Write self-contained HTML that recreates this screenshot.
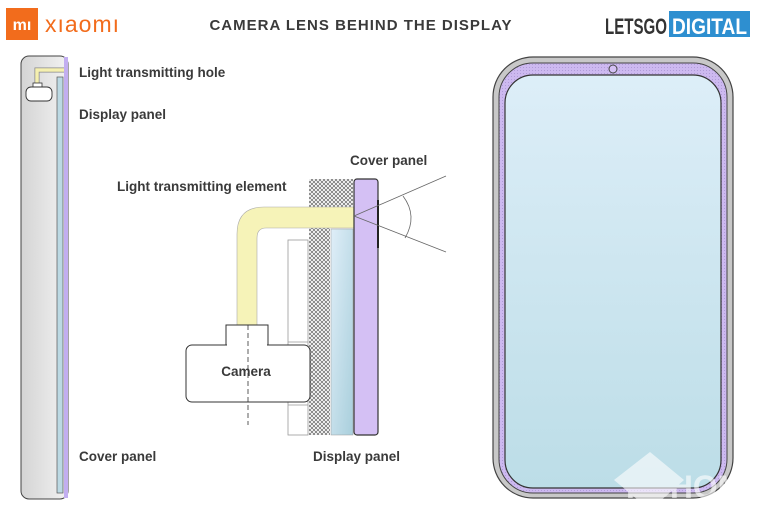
<!DOCTYPE html>
<html><head><meta charset="utf-8"><style>
body{margin:0;background:#fff;width:758px;height:523px;overflow:hidden}
svg{display:block}
text{font-family:"Liberation Sans","DejaVu Sans",sans-serif}
.l{font-size:13.5px;font-weight:bold;fill:#3a3a3a}
</style></head><body>
<svg width="758" height="523" viewBox="0 0 758 523">
<defs>
<pattern id="hx" width="4" height="4" patternUnits="userSpaceOnUse">
<rect width="4" height="4" fill="#fff"/>
<path d="M0 0L4 4M4 0L0 4" stroke="#666" stroke-width="0.7"/>
</pattern>
<pattern id="dots" width="3" height="3" patternUnits="userSpaceOnUse">
<rect width="3" height="3" fill="#cdb9f0"/>
<circle cx="1.5" cy="1.5" r="0.5" fill="#a693d0"/>
</pattern>
<linearGradient id="scr" x1="0" y1="0" x2="0" y2="1">
<stop offset="0" stop-color="#ddeef8"/><stop offset="1" stop-color="#bcdde7"/>
</linearGradient>
<linearGradient id="dp" x1="0" y1="0" x2="1" y2="1">
<stop offset="0" stop-color="#dfeef8"/><stop offset="1" stop-color="#a9cfdc"/>
</linearGradient>
<linearGradient id="gr" x1="0" y1="0" x2="1" y2="0">
<stop offset="0" stop-color="#d4d4d4"/><stop offset="1" stop-color="#f2f2f2"/>
</linearGradient>
</defs>
<!-- header -->
<rect x="6" y="8" width="32" height="32" fill="#f26c1c"/>
<text x="22" y="30" font-size="16" font-weight="bold" fill="#fff" text-anchor="middle">mı</text>
<text x="45" y="32" font-size="23" fill="#f26c1c" letter-spacing="1">xıaomı</text>
<text x="361" y="30" font-size="15" font-weight="bold" fill="#3a3a3a" text-anchor="middle" letter-spacing="1">CAMERA LENS BEHIND THE DISPLAY</text>
<text x="605" y="34" font-size="22" font-weight="bold" fill="#333" textLength="62" lengthAdjust="spacingAndGlyphs">LETSGO</text>
<rect x="669" y="11" width="81" height="26" fill="#2e8fd0"/>
<text x="672" y="34" font-size="22" font-weight="bold" fill="#fff" textLength="75" lengthAdjust="spacingAndGlyphs">DIGITAL</text>

<!-- left phone -->
<rect x="21" y="56" width="47" height="443" rx="8" fill="url(#gr)" stroke="#444" stroke-width="1"/>
<rect x="64" y="57" width="4" height="441" fill="#c2aef0"/>
<rect x="57" y="77" width="6" height="416" fill="#bcd9e3" stroke="#555" stroke-width="0.7"/>
<path d="M37 83 V70 H64" fill="none" stroke="#888" stroke-width="5"/>
<path d="M37 83 V70 H64" fill="none" stroke="#f5f0b0" stroke-width="3.5"/>
<rect x="33" y="83" width="9" height="4" fill="#fff" stroke="#333" stroke-width="0.8"/>
<rect x="26" y="87" width="26" height="14" rx="5" fill="#fff" stroke="#333" stroke-width="0.9"/>
<text x="79" y="77" class="l">Light transmitting hole</text>
<text x="79" y="119" class="l">Display panel</text>
<text x="79" y="461" class="l">Cover panel</text>

<!-- middle diagram -->
<rect x="288" y="240" width="20" height="195" fill="#fff" stroke="#999" stroke-width="0.8"/>
<line x1="288" y1="342" x2="308" y2="342" stroke="#999" stroke-width="0.8"/>
<line x1="288" y1="405" x2="308" y2="405" stroke="#999" stroke-width="0.8"/>
<rect x="309" y="179" width="21" height="256" fill="url(#hx)"/>
<rect x="309" y="179" width="44" height="28" fill="url(#hx)"/>
<rect x="331" y="229" width="22" height="206" fill="url(#dp)" stroke="#999" stroke-width="0.5"/>
<path d="M237 325 V234 Q237 207 264 207 H354 V228 H266 Q257 228 257 238 V325 Z" fill="#f6f3b8" stroke="#aaa" stroke-width="0.6"/>
<rect x="354" y="179" width="24" height="256" rx="3" fill="#d4c0f4" stroke="#333" stroke-width="1.2"/>
<line x1="378" y1="200" x2="378" y2="248" stroke="#222" stroke-width="2"/>
<line x1="354" y1="216" x2="446" y2="176" stroke="#666" stroke-width="0.8"/>
<line x1="354" y1="216" x2="446" y2="252" stroke="#666" stroke-width="0.8"/>
<path d="M403 196 Q418 216 405 238" fill="none" stroke="#666" stroke-width="0.8"/>
<rect x="226" y="325" width="42" height="22" fill="#fff" stroke="#333" stroke-width="1"/>
<rect x="186" y="345" width="124" height="57" rx="6" fill="#fff" stroke="#333" stroke-width="1"/>
<rect x="227" y="340" width="40" height="8" fill="#fff"/>
<line x1="248" y1="325" x2="248" y2="425" stroke="#333" stroke-width="0.8" stroke-dasharray="5,3"/>
<text x="246" y="376" class="l" text-anchor="middle">Camera</text>
<text x="117" y="191" class="l">Light transmitting element</text>
<text x="350" y="165" class="l">Cover panel</text>
<text x="313" y="461" class="l">Display panel</text>

<!-- right phone -->
<rect x="493" y="57" width="240" height="441" rx="40" fill="#c8c8c8" stroke="#444" stroke-width="1.2"/>
<rect x="499" y="63" width="228" height="430" rx="34" fill="url(#dots)" stroke="#444" stroke-width="1"/>
<rect x="505" y="75" width="216" height="413" rx="28" fill="url(#scr)" stroke="#333" stroke-width="1.2"/>
<circle cx="613" cy="69" r="4" fill="#d4c0f4" stroke="#444" stroke-width="1"/>
<g opacity="0.6">
<path d="M650 452 L684 480 L650 510 L614 480 Z" fill="#fff"/>
<text x="626" y="498" font-size="32" font-weight="bold" fill="#fff" textLength="118" lengthAdjust="spacingAndGlyphs">PCHOM</text>
</g>
</svg>
</body></html>
